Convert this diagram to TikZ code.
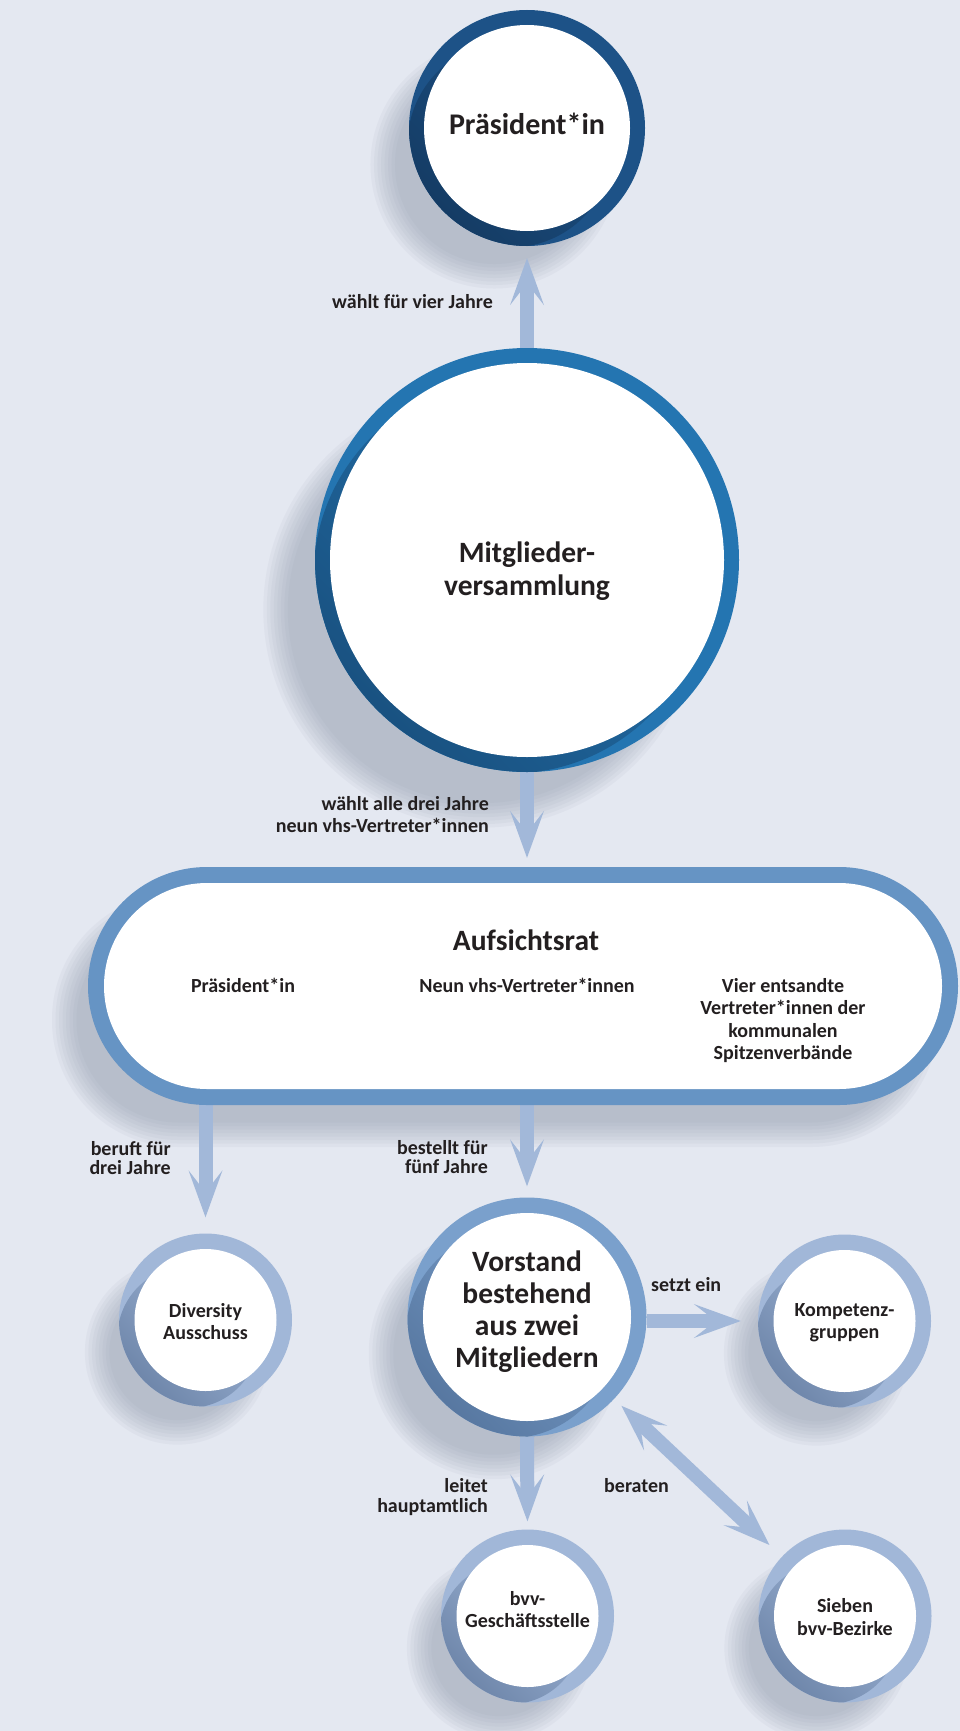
\documentclass[tikz,border=0pt]{standalone}
\usepackage{fontspec}
\setmainfont{Carlito}
\usetikzlibrary{arrows.meta,shapes.misc,calc}
\definecolor{bgc}{HTML}{E4E8F1}
\definecolor{shd}{HTML}{8A92A6}
\definecolor{arrowc}{HTML}{A2B8D9}
\definecolor{txtc}{HTML}{231F20}
\definecolor{praesL}{HTML}{1D5287}
\definecolor{praesD}{HTML}{143B63}
\definecolor{mvL}{HTML}{2475B1}
\definecolor{mvD}{HTML}{195180}
\definecolor{aufL}{HTML}{6694C4}
\definecolor{vorL}{HTML}{7AA0CC}
\definecolor{vorD}{HTML}{56769F}
\definecolor{smL}{HTML}{A1B7D8}
\definecolor{smD}{HTML}{6C84A8}
\pgfdeclarelayer{shadowlayer}
\pgfdeclarelayer{arrowlayer}
\pgfsetlayers{shadowlayer,arrowlayer,main}

\tikzset{
  bigtip/.tip={Stealth[length=47pt,width=34pt,inset=22pt,line width=0pt]},
  big/.style={font=\bfseries\fontsize{29.5}{34}\selectfont, text=txtc, inner sep=0pt, anchor=base},
  small/.style={font=\bfseries\fontsize{20}{24}\selectfont, text=txtc, inner sep=0pt},
  arr/.style={draw=arrowc, fill=arrowc, line width=14pt, -bigtip},
  arrboth/.style={draw=arrowc, fill=arrowc, line width=14pt, bigtip-bigtip},
  shadowfill/.style={fill=shd, opacity=0.075},
}

\newcommand\castshadow[3]{%
  \foreach \k in {0,...,7}{%
    \fill[shadowfill] ({#1-0.14*#3-16},{#2+0.14*#3+20}) circle[radius={(#3+6-\k*3.5)*1pt}];}%
}
\newcommand\ringcircle[7]{%
  \node[circle, inner sep=0pt, minimum size={2*#4*1pt}, fill=#6] (#1) at (#2,#3) {};
  \begin{scope}
    \clip (#2,#3) circle[radius={#4*1pt}];
    \shade[top color=#6, bottom color=#7, shading angle=-45] ({#2-1.1*#5},{#3+1.1*#5}) circle[radius={(#4-#5)*1pt}];
  \end{scope}
  \node[circle, inner sep=0pt, minimum size={2*(#4-#5)*1pt}, fill=white] (#1-in) at (#2,#3) {};
}

\begin{document}
\begin{tikzpicture}[x=1pt,y=-1pt]
\useasboundingbox (0,0) rectangle (960,1731);

\begin{pgfonlayer}{shadowlayer}
  \fill[bgc] (0,0) rectangle (960,1731);
  \castshadow{527}{128}{118}
  \castshadow{527}{560}{212}
  \foreach \k in {0,...,7}{%
    \pgfmathsetmacro\e{8-\k*3.5}
    \fill[shadowfill, rounded corners={(118.5+\e)*1pt}] ({88-28-\e},{867+34-\e}) rectangle ({958-28+\e},{1105+34+\e});}
  \castshadow{527}{1317}{119.5}
  \castshadow{205.5}{1320}{86.5}
  \castshadow{844.5}{1321}{86.5}
  \castshadow{527.5}{1616}{86.5}
  \castshadow{845}{1616}{86.5}
\end{pgfonlayer}

% circles
\ringcircle{praes}{527}{128}{118}{15}{praesL}{praesD}
\ringcircle{mv}{527}{560}{212}{15}{mvL}{mvD}
\ringcircle{vor}{527}{1317}{119.5}{15.5}{vorL}{vorD}
\ringcircle{div}{205.5}{1320}{86.5}{15.5}{smL}{smD}
\ringcircle{komp}{844.5}{1321}{86.5}{15.5}{smL}{smD}
\ringcircle{bvv}{527.5}{1616}{86.5}{15.5}{smL}{smD}
\ringcircle{sieb}{845}{1616}{86.5}{15.5}{smL}{smD}

% Aufsichtsrat stadium
\node[rounded rectangle, inner sep=0pt, minimum width=870pt, minimum height=238pt, fill=aufL] (auf) at (523,986) {};
\node[rounded rectangle, inner sep=0pt, minimum width=838pt, minimum height=206pt, fill=white] (auf-in) at (523,986) {};

% texts in shapes
\node[big, font=\bfseries\fontsize{30}{34}\selectfont] (praes-t) at (527,135) {Präsident*in};
\node[big] (mv-t1) at (527,562) {Mitglieder-};
\node[big] (mv-t2) at (527,595) {versammlung};
\node[big] (auf-t) at (526,950) {Aufsichtsrat};
\node[small, anchor=base] (auf-a) at (243,992) {Präsident*in};
\node[small, anchor=base] (auf-b) at (527,992) {Neun vhs-Vertreter*innen};
\foreach \t [count=\i] in {Vier entsandte,Vertreter*innen der,kommunalen,Spitzenverbände}
  \node[small, anchor=base] (auf-c\i) at (783,{992+(\i-1)*22.5}) {\t};
\foreach \t [count=\i] in {Vorstand,bestehend,aus zwei,Mitgliedern}
  \node[big] (vor-t\i) at (527,{1271+(\i-1)*32.3}) {\t};
\node[small, anchor=base] (div-t1) at (205.5,1317) {Diversity};
\node[small, anchor=base] (div-t2) at (205.5,1339) {Ausschuss};
\node[small, anchor=base] (komp-t1) at (844.5,1316) {Kompetenz-};
\node[small, anchor=base] (komp-t2) at (844.5,1338) {gruppen};
\node[small, anchor=base] (bvv-t1) at (527.5,1605) {bvv-};
\node[small, anchor=base] (bvv-t2) at (527.5,1627) {Geschäftsstelle};
\node[small, anchor=base] (sieb-t1) at (845,1612) {Sieben};
\node[small, anchor=base] (sieb-t2) at (845,1635) {bvv-Bezirke};

% connector labels
\node[small, anchor=base east] (lab1) at (493,308) {wählt für vier Jahre};
\node[small, anchor=base east] (lab2a) at (489,810) {wählt alle drei Jahre};
\node[small, anchor=base east] (lab2b) at (489,832) {neun vhs-Vertreter*innen};
\node[small, anchor=base east] (lab3a) at (171,1155) {beruft für};
\node[small, anchor=base east] (lab3b) at (171,1174) {drei Jahre};
\node[small, anchor=base east] (lab4a) at (488,1154) {bestellt für};
\node[small, anchor=base east] (lab4b) at (488,1173) {fünf Jahre};
\node[small, anchor=base west] (lab5) at (651,1291) {setzt ein};
\node[small, anchor=base east] (lab6a) at (488,1492) {leitet};
\node[small, anchor=base east] (lab6b) at (488,1512) {hauptamtlich};
\node[small, anchor=base west] (lab7) at (604,1492) {beraten};

% connectors
\begin{pgfonlayer}{arrowlayer}
  \draw[arr, shorten >=12pt] (mv.north) -- (praes.south);
  \draw[arr, shorten >=9pt] (mv.south) -- (mv.south |- auf.north);
  \draw[arr, shorten >=16pt] (div.north |- auf.south) -- (div.north);
  \draw[arr, shorten >=11pt] (vor.north |- auf.south) -- (vor.north);
  \draw[arr, shorten >=17pt] (komp.west -| vor.east) -- (komp.west);
  \draw[arr, shorten >=8pt] (vor.south) -- (bvv.north);
  \draw[arrboth, shorten <=10pt, shorten >=17pt] (vor) -- (sieb);
\end{pgfonlayer}
\end{tikzpicture}
\end{document}
